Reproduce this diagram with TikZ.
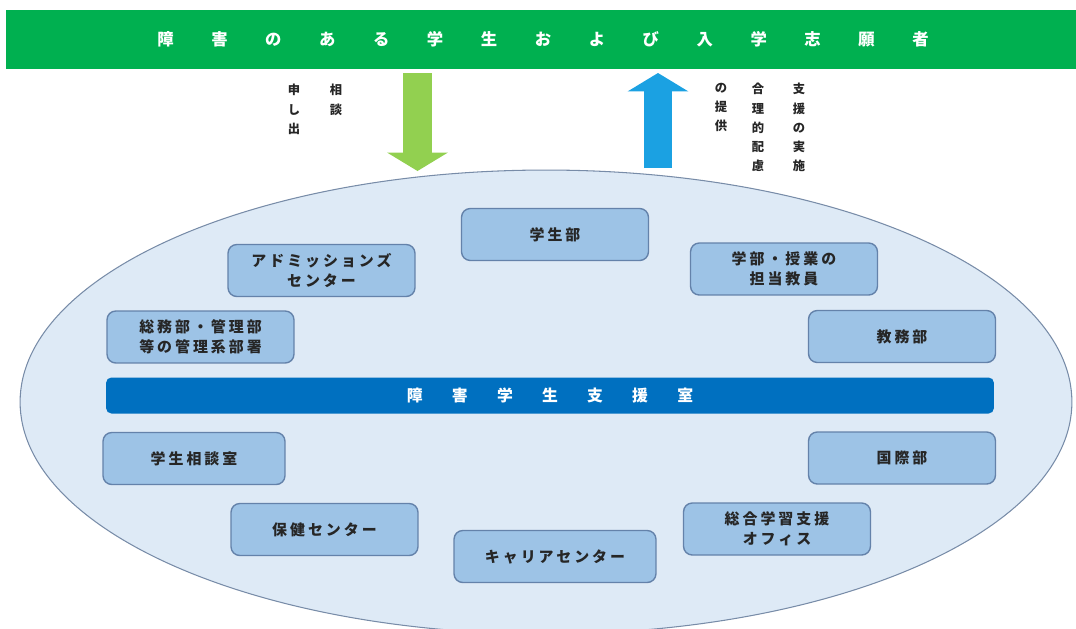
\documentclass[tikz,border=0pt]{standalone}
\usepackage{fontspec}
\setmainfont{Noto Sans CJK JP}
\usepackage{tikz}
\usetikzlibrary{positioning}
\usetikzlibrary{arrows.meta}
\definecolor{bannergreen}{RGB}{0,176,80}
\definecolor{arrowgreen}{RGB}{146,208,80}
\definecolor{arrowblue}{RGB}{27,161,226}
\definecolor{ovalfill}{RGB}{222,234,246}
\definecolor{ovalline}{RGB}{120,140,168}
\definecolor{unitfill}{RGB}{157,195,230}
\definecolor{unitline}{RGB}{100,130,170}
\definecolor{centerblue}{RGB}{0,112,192}
\definecolor{textgray}{RGB}{38,38,38}
\newcommand{\gp}[1][2.3em]{\hspace{#1}}
\tikzset{
  unit/.style={draw=unitline, fill=unitfill, line width=0.8pt, rounded corners=5pt,
    minimum width=3.74cm, minimum height=1.04cm, align=center, text=textgray,
    font=\fontsize{8.5}{11.4}\selectfont\bfseries\addfontfeatures{LetterSpace=20}},
  vlabel/.style={anchor=north, align=center, inner sep=0pt, text=textgray,
    font=\fontsize{7}{10.9}\selectfont\bfseries},
  blockarrow/.style={line width=0.57cm,
    -{Triangle[width=1.22cm, length=0.37cm, line width=0pt]}},
}

\begin{document}
\begin{tikzpicture}[x=0.02cm, y=-0.02cm]
\useasboundingbox (0,0) rectangle (1076,629);
%\draw[red] (0,0) rectangle (1076,629);
\fill[ovalfill, draw=ovalline, line width=0.6pt] (546,402) ellipse [x radius=10.52cm, y radius=4.64cm];
\node[fill=bannergreen, minimum width=21.5cm, minimum height=1.18cm, text=white,
  font=\fontsize{9.3}{11}\selectfont\bfseries] (top) at (543,39.5)
  {障\gp 害\gp の\gp あ\gp る\gp 学\gp 生\gp お\gp よ\gp び\gp 入\gp 学\gp 志\gp 願\gp 者};
% requests and support
\coordinate (askin) at (417.5,73);
\coordinate (askout) at (417.5,171);
\coordinate (givein) at (658,168);
\coordinate (giveout) at (658,73);
\draw[blockarrow, arrowgreen] (askin) -- (askout);
\draw[blockarrow, arrowblue] (givein) -- (giveout);
\node[vlabel] (ask1) at (336,84) {相\\談};
\node[vlabel] (ask2) at (294,84) {申\\し\\出};
\node[vlabel] (give1) at (799,83) {支\\援\\の\\実\\施};
\node[vlabel] (give2) at (758,83) {合\\理\\的\\配\\慮};
\node[vlabel] (give3) at (721,83) {の\\提\\供};
% offices
\node[unit] (gakusei) at (555,234.5) {学生部};
\node[unit] (admission) at (321.5,270.5) {アドミッションズ\\センター};
\node[unit] (soumu) at (200.5,337) {総務部・管理部\\等の管理系部署};
\node[unit] (kyoin) at (784,269) {学部・授業の\\担当教員};
\node[unit] (kyomu) at (902,336.5) {教務部};
\node[unit, minimum width=3.64cm] (soudan) at (194,458.5) {学生相談室};
\node[unit] (kokusai) at (902,458) {国際部};
\node[unit] (hoken) at (324.5,529.5) {保健センター};
\node[unit] (sougou) at (777,529) {総合学習支援\\オフィス};
\node[unit, minimum width=4.04cm] (career) at (555,556.5) {キャリアセンター};
\node[fill=centerblue, rounded corners=3pt, minimum width=17.76cm, minimum height=0.72cm,
  text=white, font=\fontsize{9}{11}\selectfont\bfseries] (shien) at (550,395.5)
  {障\gp[1.85em]害\gp[1.85em]学\gp[1.85em]生\gp[1.85em]支\gp[1.85em]援\gp[1.85em]室};
\end{tikzpicture}
\end{document}
